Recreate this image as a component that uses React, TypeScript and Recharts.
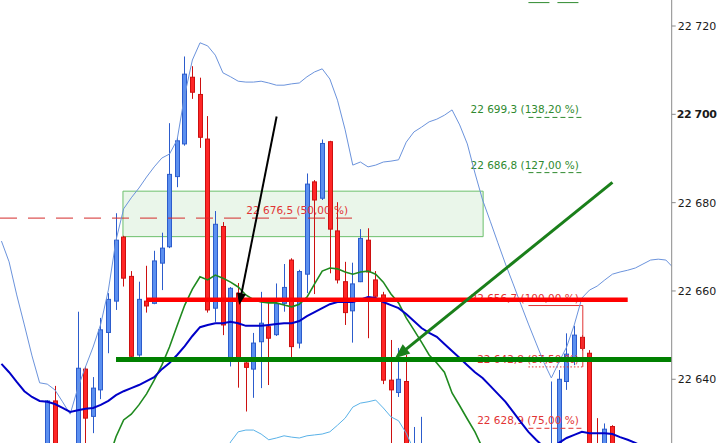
import React from 'react';
import {
  ComposedChart,
  Bar,
  Line,
  XAxis,
  YAxis,
  ReferenceLine,
  ReferenceArea,
} from 'recharts';

// candle positions (bar index) and OHLC
const candleIndex = [
  0, 1, 4, 5, 6, 7, 8, 9, 10, 11, 12, 13, 14, 15, 16, 17, 18, 19, 20, 21, 22, 23, 24, 25, 26, 27, 28,
  29, 30, 31, 32, 33, 34, 35, 36, 37, 38, 39, 40, 41, 42, 43, 44, 45, 46, 47, 48, 49, 66, 67, 68, 69,
  70, 71, 72, 73, 74,
];
const openPrices = [
  22622, 22635.1, 22622, 22642.3, 22631.6, 22637.6, 22650.6, 22657.7, 22672.2, 22663.3, 22645.5,
  22657.7, 22657.2, 22666.3, 22670.0, 22685.9, 22693.3, 22708.4, 22704.5, 22694.4, 22656.1, 22674.6,
  22644.8, 22659.5, 22643.7, 22642.3, 22648.5, 22651.9, 22650.1, 22657.2, 22667.0, 22648.2, 22663.8,
  22684.7, 22681.0, 22693.8, 22673.6, 22662.1, 22655.5, 22662.1, 22671.5, 22662.5, 22659.1, 22639.8,
  22637.0, 22639.5, 22612, 22614, 22615, 22618, 22639.5, 22644.8, 22649.5, 22645.9, 22620, 22620,
  22629.3,
];
const highPrices = [
  22635.3, 22638.5, 22655.3, 22642.9, 22640.5, 22653.9, 22659.5, 22677.6, 22672.5, 22664.5, 22662.1,
  22665.7, 22669.1, 22673.2, 22698.0, 22694.7, 22713.1, 22710.9, 22708.3, 22699.6, 22678.1, 22675.6,
  22660.9, 22661.8, 22643.9, 22650.5, 22659.8, 22657.4, 22661.7, 22666.1, 22667.4, 22664.8, 22686.6,
  22685.1, 22694.3, 22694.0, 22680.1, 22666.6, 22666.4, 22674.0, 22674.2, 22664.5, 22659.8, 22648.9,
  22647.1, 22645.5, 22629.2, 22631.5, 22639.5, 22642.1, 22650.4, 22652.1, 22650.0, 22646.6, 22631.2,
  22630.0, 22629.6,
];
const lowPrices = [
  22620, 22618, 22620, 22624, 22627.8, 22635.5, 22645.9, 22655.7, 22661.0, 22644.8, 22645.1, 22655.1,
  22657.0, 22660.2, 22669.7, 22683.5, 22692.9, 22703.5, 22692.4, 22655.1, 22653.0, 22650.0, 22642.9,
  22638.1, 22632.7, 22635.8, 22638.0, 22638.7, 22649.8, 22655.3, 22644.8, 22647.0, 22659.5, 22659.3,
  22680.6, 22664.0, 22661.7, 22652.3, 22648.3, 22662.0, 22649.3, 22657.7, 22638.9, 22622, 22636.0,
  22610, 22608, 22610, 22610, 22615, 22637.6, 22643.2, 22646.5, 22615, 22612, 22618, 22620,
];
const closePrices = [
  22635.1, 22621, 22642.5, 22631.2, 22638.0, 22651.2, 22658.1, 22671.5, 22662.9, 22645.2, 22658.1,
  22656.6, 22666.8, 22669.7, 22686.4, 22694.0, 22709.1, 22705.0, 22694.8, 22655.7, 22675.1, 22652.3,
  22660.6, 22644.8, 22642.7, 22648.2, 22652.7, 22649.3, 22657.1, 22660.8, 22647.4, 22664.4, 22684.2,
  22680.6, 22693.4, 22674.0, 22662.5, 22655.1, 22661.6, 22671.9, 22664.3, 22658.8, 22639.8, 22637.6,
  22640.0, 22615, 22620, 22622, 22620, 22640.0, 22645.7, 22650.0, 22647.0, 22618, 22615, 22628.7,
  22622,
];

// indicator lines, one value per bar starting at the given index
const upperBandStart = -6;
const upperBand = [
  22671.3, 22666.6, 22659.1, 22652.3, 22645.3, 22639.2, 22638.9, 22637.6, 22634.9, 22632.1, 22638.0,
  22642.8, 22647.3, 22652.5, 22660.2, 22671.5, 22678.6, 22681.1, 22683.3, 22685.8, 22688.1, 22690.1,
  22691.0, 22694.2, 22704.4, 22712.3, 22716.2, 22715.5, 22713.4, 22709.4, 22708.5, 22707.5, 22707.3,
  22707.3, 22707.5, 22707.1, 22706.6, 22706.6, 22706.9, 22707.1, 22708.5, 22709.6, 22710.3, 22708.0,
  22703.2, 22696.5, 22688.5, 22689.2, 22688.1, 22688.5, 22689.2, 22689.4, 22689.7, 22693.7, 22696.0,
  22697.1, 22698.3, 22698.9, 22699.8, 22701.0, 22697.6, 22693.3, 22686.7, 22680.6, 22675.8, 22670.9,
  22666.1, 22661.6, 22657.0, 22652.5, 22648.2, 22643.9, 22640.3, 22643.9, 22647.3, 22652.3, 22658.4,
  22660.2, 22661.1, 22662.5, 22663.8, 22664.3, 22664.7, 22665.2, 22666.1, 22667.0, 22667.2, 22667.0,
  22665.2,
];
const lowerBandStart = 23;
const lowerBand = [
  22621.7, 22625.8, 22628.1, 22628.5, 22628.5, 22627.6, 22626.3, 22626.7, 22627.2, 22626.9, 22626.7,
  22627.2, 22627.4, 22627.6, 22628.1, 22629.6, 22631.2, 22633.7, 22634.6, 22634.9, 22635.3, 22633.5,
  22631.5, 22630.6, 22627.8, 22624.0,
];
const greenMaStart = 8;
const greenMa = [
  22621.7, 22627.0, 22630.8, 22632.1, 22634.2, 22636.7, 22639.8, 22643.2, 22647.3, 22652.1, 22656.8,
  22660.4, 22663.2, 22662.5, 22663.6, 22662.9, 22662.0, 22660.9, 22659.1, 22658.0, 22657.5, 22657.3,
  22657.3, 22656.8, 22656.4, 22657.0, 22658.6, 22661.6, 22664.5, 22665.2, 22665.0, 22664.3, 22663.8,
  22664.3, 22664.5, 22663.8, 22662.0, 22659.3, 22657.3, 22653.9, 22651.2, 22648.4, 22645.5, 22643.7,
  22641.6, 22636.9, 22634.0, 22631.0, 22628.1, 22624.4, 22620.6,
];
const blueMaStart = -6;
const blueMa = [
  22643.5, 22641.6, 22639.4, 22637.3, 22636.0, 22635.1, 22634.9, 22634.4, 22633.5, 22632.6, 22633.0,
  22633.3, 22633.5, 22634.2, 22635.1, 22636.4, 22637.3, 22638.0, 22638.7, 22639.6, 22640.5, 22642.3,
  22643.7, 22645.5, 22647.5, 22649.8, 22651.8, 22652.3, 22652.7, 22652.7, 22653.0, 22652.7, 22652.1,
  22652.1, 22652.1, 22652.3, 22652.5, 22652.7, 22652.7, 22653.2, 22654.3, 22655.2, 22656.1, 22657.0,
  22657.5, 22657.5, 22657.5, 22658.0, 22658.6, 22658.4, 22657.5, 22656.8, 22656.1, 22654.8, 22653.2,
  22651.6, 22650.5, 22649.6, 22648.0, 22646.4, 22644.8, 22643.2, 22641.6, 22640.3, 22638.5, 22636.7,
  22634.9, 22632.6, 22630.3, 22628.1, 22626.3, 22624.7, 22624.0, 22625.6, 22626.7, 22627.4, 22628.1,
  22627.8, 22627.8, 22627.8, 22627.6, 22626.9, 22626.3, 22625.6, 22624.7,
];

const yTicks = [22640, 22660, 22680, 22700, 22720];

// Fibonacci levels drawn at the right
const fibValues = [22725.3, 22699.3, 22686.8, 22656.7, 22642.8, 22628.9];
const fibLabels = ['', '22 699,3 (138,20 %)', '22 686,8 (127,00 %)', '22 656,7 (100,00 %)', '22 642,8 (87,50 %)', '22 628,9 (75,00 %)'];
const fibMidValue = 22676.5;
const fibMidLabel = '22 676,5 (50,00 %)';

// hand-drawn levels and zone
const supportLevel = 22644.5;
const resistanceLevel = 22658.0;
const zoneLow = 22672.3;
const zoneHigh = 22682.6;

const X_MIN = -6.19;
const X_MAX = 81.76;
const Y_MIN = 22625.57;
const Y_MAX = 22725.89;

const GREEN = '#2f8a2f';
const RED = '#e23434';
const FONT = 'DejaVu Sans';

const candles = candleIndex.map((i, k) => ({
  i,
  open: openPrices[k],
  high: highPrices[k],
  low: lowPrices[k],
  close: closePrices[k],
}));

const toSeries = (start: number, values: number[]) => values.map((v, k) => ({ i: start + k, v }));

const fmt = (v: number) => `${Math.floor(v / 1000)} ${String(v % 1000).padStart(3, '0')}`;

function Candle(props: any) {
  const { x, y, width, height, payload } = props;
  if (!payload) return null;
  const { open, close, high, low } = payload;
  const top = Math.min(y, y + height);
  const span = Math.abs(height);
  const ratio = span / (high - low);
  const up = close >= open;
  const cx = Math.round(x + width / 2) + 0.5;
  const yOpen = top + (high - open) * ratio;
  const yClose = top + (high - close) * ratio;
  const bodyTop = Math.min(yOpen, yClose);
  const bodyH = Math.max(Math.abs(yOpen - yClose), 1);
  const stroke = up ? '#2c5ccc' : '#cc1010';
  const fill = up ? '#5b8ff0' : '#ff2626';
  return (
    <g>
      <line x1={cx} x2={cx} y1={top} y2={top + span} stroke={stroke} strokeWidth={1} />
      <rect x={cx - 2} y={bodyTop} width={4} height={bodyH} fill={fill} stroke={stroke} strokeWidth={1} />
    </g>
  );
}

function arrowShape(color: string, lineWidth: number, headLen: number, headWidth: number) {
  return (props: any) => {
    const { x1, y1, x2, y2 } = props;
    const dx = x2 - x1;
    const dy = y2 - y1;
    const len = Math.hypot(dx, dy) || 1;
    const ux = dx / len;
    const uy = dy / len;
    const bx = x2 - ux * headLen;
    const by = y2 - uy * headLen;
    const px = (-uy * headWidth) / 2;
    const py = (ux * headWidth) / 2;
    return (
      <g>
        <line x1={x1} y1={y1} x2={bx + ux * 2} y2={by + uy * 2} stroke={color} strokeWidth={lineWidth} />
        <polygon points={`${x2},${y2} ${bx + px},${by + py} ${bx - px},${by - py}`} fill={color} />
      </g>
    );
  };
}

function lineLabel(text: string, color: string) {
  return (props: any) => {
    const vb = props.viewBox || {};
    return (
      <text
        x={vb.x + vb.width - 4}
        y={vb.y - 4}
        textAnchor="end"
        fontSize={10.5}
        fontFamily={FONT}
        fill={color}
      >
        {text}
      </text>
    );
  };
}

function YTick(props: any) {
  const { x, y, payload } = props;
  const bold = payload.value === 22700;
  return (
    <text
      x={bold ? x - 1 : x}
      y={y}
      dy={4}
      fontSize={11}
      fontFamily={FONT}
      fontWeight={bold ? 'bold' : 'normal'}
      letterSpacing={bold ? -0.4 : 0}
      fill="#1a1a1a"
    >
      {fmt(payload.value)}
    </text>
  );
}

const fibStyles = [
  { color: GREEN, dash: '21 8' },
  { color: GREEN, dash: '5 3' },
  { color: GREEN, dash: '5 3' },
  { color: RED, dash: undefined },
  { color: RED, dash: '1.5 2' },
  { color: RED, dash: '5 3' },
];

export default function App() {
  return (
    <div style={{ position: 'absolute', left: 0, top: 0, width: 724, height: 443, background: '#fff' }}>
      <ComposedChart
        width={724}
        height={443}
        data={candles}
        margin={{ top: 0, right: 0, bottom: 0, left: 0 }}
      >
        <XAxis
          dataKey="i"
          type="number"
          domain={[X_MIN, X_MAX]}
          allowDataOverflow
          hide
        />
        <YAxis
          orientation="right"
          type="number"
          width={52.3}
          domain={[Y_MIN, Y_MAX]}
          allowDataOverflow
          ticks={yTicks}
          tick={<YTick />}
          tickSize={4}
          tickMargin={2}
          axisLine={{ stroke: '#8a8a8a' }}
          tickLine={{ stroke: '#8a8a8a' }}
        />

        <ReferenceArea
          x1={9.91}
          x2={57.07}
          y1={zoneLow}
          y2={zoneHigh}
          fill="#e6f5e6"
          fillOpacity={0.85}
          stroke="#6cbf6c"
          strokeWidth={1}
          ifOverflow="visible"
        />

        <ReferenceLine
          segment={[{ x: X_MIN, y: fibMidValue }, { x: 39.9, y: fibMidValue }]}
          stroke="#d42a2a"
          strokeWidth={1}
          strokeDasharray="17 11"
          ifOverflow="visible"
          label={lineLabel(fibMidLabel, RED)}
        />
        {fibValues.map((v, k) => (
          <ReferenceLine
            key={`fib-${k}`}
            segment={[{ x: 63.0, y: v }, { x: 70.12, y: v }]}
            stroke={fibStyles[k].color}
            strokeWidth={1}
            strokeDasharray={fibStyles[k].dash}
            ifOverflow="visible"
            label={fibLabels[k] ? lineLabel(fibLabels[k], fibStyles[k].color) : undefined}
          />
        ))}
        <ReferenceLine
          segment={[{ x: 70.12, y: fibValues[3] }, { x: 70.12, y: fibValues[4] }]}
          stroke={RED}
          strokeWidth={1}
          ifOverflow="visible"
        />

        <Line
          data={toSeries(lowerBandStart, lowerBand)}
          dataKey="v"
          stroke="#5ab2e8"
          strokeWidth={1}
          dot={false}
          activeDot={false}
          isAnimationActive={false}
        />
        <Line
          data={toSeries(upperBandStart, upperBand)}
          dataKey="v"
          stroke="#6b93dc"
          strokeWidth={1}
          dot={false}
          activeDot={false}
          isAnimationActive={false}
        />

        <Bar
          dataKey={(d: any) => [d.low, d.high]}
          barSize={5}
          shape={<Candle />}
          isAnimationActive={false}
        />

        <Line
          data={toSeries(greenMaStart, greenMa)}
          dataKey="v"
          stroke="#1f8a1f"
          strokeWidth={1.6}
          dot={false}
          activeDot={false}
          isAnimationActive={false}
        />
        <Line
          data={toSeries(blueMaStart, blueMa)}
          dataKey="v"
          stroke="#0000c8"
          strokeWidth={2}
          dot={false}
          activeDot={false}
          isAnimationActive={false}
        />

        <ReferenceLine
          segment={[{ x: 12.93, y: resistanceLevel }, { x: 76.0, y: resistanceLevel }]}
          stroke="#ff0000"
          strokeWidth={4.5}
          ifOverflow="visible"
        />
        <ReferenceLine
          segment={[{ x: 9.0, y: supportLevel }, { x: X_MAX, y: supportLevel }]}
          stroke="#008000"
          strokeWidth={5}
          ifOverflow="visible"
        />

        <ReferenceLine
          segment={[{ x: 30.03, y: 22699.5 }, { x: 25.13, y: 22656.8 }]}
          ifOverflow="visible"
          shape={arrowShape('#000000', 2, 12, 9)}
        />
        <ReferenceLine
          segment={[{ x: 74.0, y: 22684.6 }, { x: 45.51, y: 22644.75 }]}
          ifOverflow="visible"
          shape={arrowShape('#1a7f1a', 3, 15, 12)}
        />
      </ComposedChart>
    </div>
  );
}
